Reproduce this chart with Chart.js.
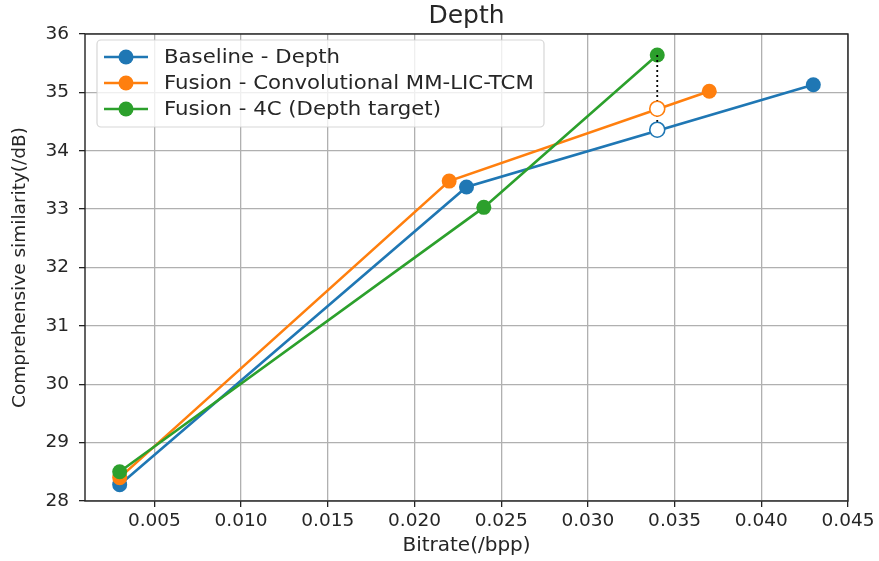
<!DOCTYPE html>
<html>
<head>
<meta charset="utf-8">
<script src="https://cdn.jsdelivr.net/npm/chart.js@4"></script>
<style>
  html, body { margin: 0; padding: 0; background: #fff; }
  canvas { display: block; }
</style>
</head>
<body>
<canvas id="chart" width="879" height="561"></canvas>
<script>
// Depth: bitrate vs comprehensive similarity for three codecs
const chartTitle = 'Depth';
const xTitle = 'Bitrate(/bpp)';
const yTitle = 'Comprehensive similarity(/dB)';

const xTicks = [0.005, 0.010, 0.015, 0.020, 0.025, 0.030, 0.035, 0.040, 0.045];
const yTicks = [28, 29, 30, 31, 32, 33, 34, 35, 36];

const seriesNames = ['Baseline - Depth', 'Fusion - Convolutional MM-LIC-TCM', 'Fusion - 4C (Depth target)'];
const seriesColors = ['#1f77b4', '#ff7f0e', '#2ca02c'];

const bitrateBaseline = [0.003, 0.023, 0.043];
const simBaseline = [28.28, 33.38, 35.13];
const bitrateConv = [0.003, 0.022, 0.037];
const simConv = [28.40, 33.48, 35.02];
const bitrate4C = [0.003, 0.024, 0.034];
const sim4C = [28.50, 33.03, 35.64];

// comparison at equal bitrate (open circles + dotted gap)
const compareBitrate = 0.034;
const compareSim = [34.36, 34.72]; // baseline, conv
const gapSim = [35.64, 34.36];

const FONT = 'DejaVu Sans';
const TXT = '#262626';

function pts(xs, ys) {
  return xs.map((x, i) => ({ x: x, y: ys[i] }));
}

function lineSet(i, xs, ys, order) {
  return {
    label: seriesNames[i],
    data: pts(xs, ys),
    showLine: true,
    borderColor: seriesColors[i],
    backgroundColor: seriesColors[i],
    borderWidth: 2.6,
    pointRadius: 7.5,
    pointHoverRadius: 7.5,
    pointBorderWidth: 0,
    order: order
  };
}

// legend box drawn inside the plot, plus the frame and title
const frameLegend = {
  id: 'frameLegend',
  afterDraw(chart) {
    const c = chart.ctx;
    const a = chart.chartArea;
    c.save();
    // frame
    c.strokeStyle = '#222';
    c.lineWidth = 1.4;
    c.strokeRect(a.left, a.top, a.right - a.left, a.bottom - a.top);
    // title
    c.fillStyle = TXT;
    c.font = '25px ' + FONT;
    c.textAlign = 'center';
    c.textBaseline = 'middle';
    c.fillText(chartTitle, (a.left + a.right) / 2, 16);
    // legend
    const lx = a.left + 12, ly = a.top + 6, lw = 447, lh = 87;
    c.fillStyle = 'rgba(255,255,255,0.8)';
    c.strokeStyle = 'rgba(204,204,204,0.8)';
    c.lineWidth = 1.2;
    c.beginPath();
    c.roundRect(lx, ly, lw, lh, 4);
    c.fill();
    c.stroke();
    c.font = '19.5px ' + FONT;
    c.textAlign = 'left';
    seriesNames.forEach((name, i) => {
      const y = ly + 17 + i * 26;
      c.strokeStyle = seriesColors[i];
      c.lineWidth = 2.6;
      c.beginPath();
      c.moveTo(lx + 7, y);
      c.lineTo(lx + 51, y);
      c.stroke();
      c.fillStyle = seriesColors[i];
      c.beginPath();
      c.arc(lx + 29, y, 7.5, 0, Math.PI * 2);
      c.fill();
      // reference text is a bit wider than it is tall
      c.save();
      c.translate(lx + 67, y + 1);
      c.scale(1.09, 1);
      c.fillStyle = TXT;
      c.fillText(name, 0, 0);
      c.restore();
    });
    c.restore();
  }
};

new Chart(document.getElementById('chart'), {
  type: 'scatter',
  data: {
    datasets: [
      {
        label: 'open',
        data: compareSim.map(y => ({ x: compareBitrate, y: y })),
        pointRadius: 7.5,
        pointHoverRadius: 7.5,
        pointBorderWidth: 1.6,
        pointBorderColor: [seriesColors[0], seriesColors[1]],
        pointBackgroundColor: '#ffffff',
        order: 0
      },
      {
        label: 'gap',
        data: gapSim.map(y => ({ x: compareBitrate, y: y })),
        showLine: true,
        borderColor: '#000',
        borderWidth: 1.8,
        borderDash: [2, 3],
        pointRadius: 0,
        order: 1
      },
      lineSet(2, bitrate4C, sim4C, 2),
      lineSet(1, bitrateConv, simConv, 3),
      lineSet(0, bitrateBaseline, simBaseline, 4)
    ]
  },
  options: {
    responsive: false,
    animation: false,
    layout: { padding: { top: 34, right: 31, left: 0, bottom: 0 } },
    plugins: {
      legend: { display: false },
      tooltip: { enabled: false },
      title: { display: false }
    },
    scales: {
      x: {
        type: 'linear',
        min: 0.001,
        max: 0.045,
        afterBuildTicks: s => { s.ticks = xTicks.map(v => ({ value: v })); },
        afterFit: s => { s.height = 60; },
        grid: { color: '#b0b0b0', lineWidth: 1.3, tickColor: '#222', tickLength: 6 },
        border: { display: false },
        ticks: {
          color: TXT,
          font: { family: FONT, size: 18.5 },
          padding: 3,
          maxRotation: 0,
          callback: v => v.toFixed(3)
        },
        title: {
          display: true,
          text: xTitle,
          color: TXT,
          font: { family: FONT, size: 20 },
          padding: { top: 0, bottom: 3 }
        }
      },
      y: {
        min: 28,
        max: 36,
        afterBuildTicks: s => { s.ticks = yTicks.map(v => ({ value: v })); },
        afterFit: s => { s.width = 85; },
        grid: { color: '#b0b0b0', lineWidth: 1.3, tickColor: '#222', tickLength: 6 },
        border: { display: false },
        ticks: {
          color: TXT,
          font: { family: FONT, size: 18.5 },
          padding: 10,
          callback: v => String(v)
        },
        title: {
          display: true,
          text: yTitle,
          color: TXT,
          font: { family: FONT, size: 18.5 },
          padding: { top: 9, bottom: 0 }
        }
      }
    }
  },
  plugins: [frameLegend]
});
</script>
</body>
</html>
